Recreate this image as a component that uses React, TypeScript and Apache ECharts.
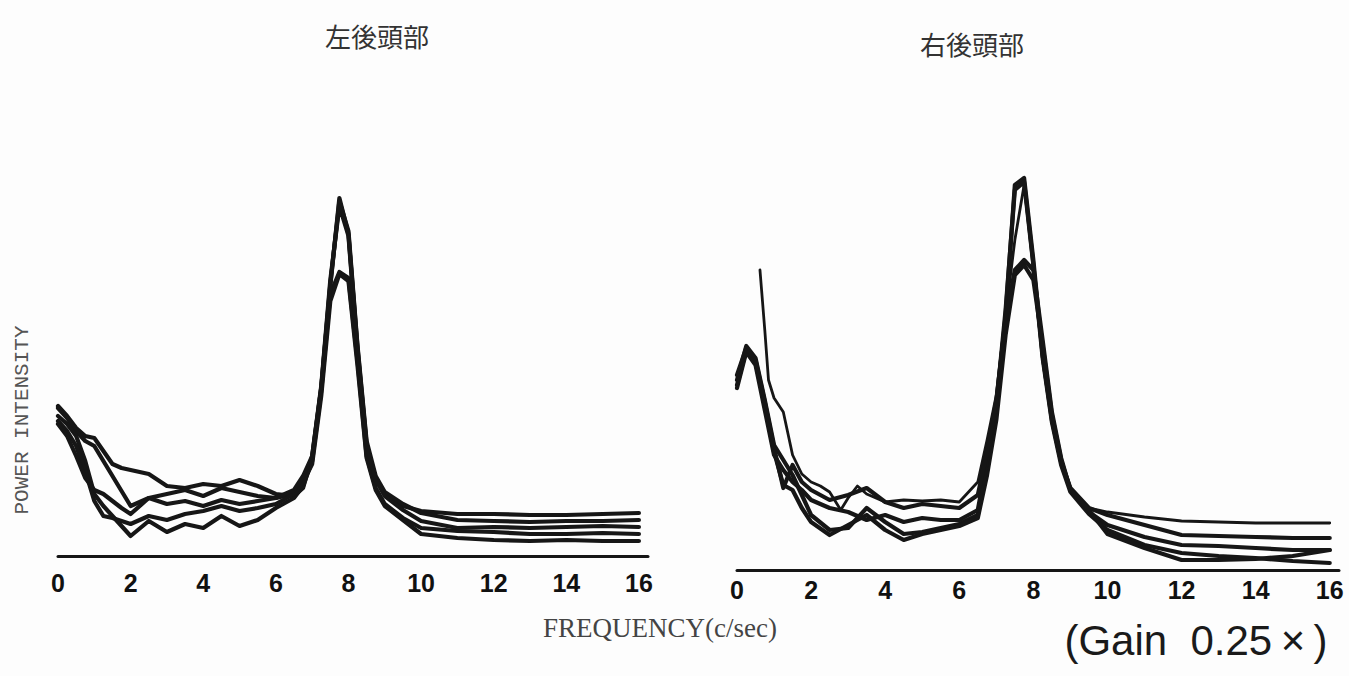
import React, { useEffect, useRef } from "react";
import * as echarts from "echarts";

// Frequencies (c/sec) shared by most traces
const freqL = [0, 0.25, 0.5, 0.75, 1, 1.25, 1.5, 1.75, 2, 2.5, 3, 3.5, 4, 4.5, 5, 5.5, 6, 6.5, 6.75, 7, 7.25, 7.5, 7.75, 8, 8.25, 8.5, 8.75, 9, 9.5, 10, 11, 12, 13, 14, 15, 16];
const freqR = freqL;
const freqR1 = [0.62, 0.75, 0.85, 1, 1.25, 1.5, 1.75, 2, 2.25, 2.5, 2.8, 3, 3.25, 3.5, 4, 4.5, 5, 5.5, 6, 6.5, 6.75, 7, 7.25, 7.5, 7.75, 8, 8.25, 8.5, 8.75, 9, 9.5, 10, 11, 12, 13, 14, 15, 16];

// 左後頭部 (left occipital) traces
const left1 = [150, 140, 128, 120, 118, 105, 92, 88, 86, 82, 70, 68, 72, 70, 76, 70, 62, 60, 68, 100, 170, 276, 350, 320, 205, 110, 78, 62, 50, 45, 42, 42, 41, 41, 42, 43];
const left2 = [148, 138, 125, 115, 110, 95, 80, 65, 50, 58, 62, 66, 60, 68, 64, 60, 58, 62, 72, 98, 168, 272, 355, 325, 210, 115, 80, 64, 52, 43, 36, 35, 34, 35, 35, 36];
const left3 = [140, 132, 120, 95, 62, 50, 40, 30, 20, 35, 24, 32, 28, 40, 30, 36, 48, 58, 70, 95, 165, 262, 284, 278, 195, 100, 68, 52, 38, 28, 25, 24, 22, 22, 23, 22];
const left4 = [135, 125, 110, 85, 55, 40, 38, 35, 32, 40, 36, 42, 45, 50, 45, 48, 52, 62, 74, 92, 160, 255, 282, 275, 190, 98, 66, 50, 36, 22, 18, 16, 15, 16, 15, 15];
const left5 = [132, 120, 100, 78, 66, 62, 55, 48, 42, 58, 52, 55, 50, 56, 52, 55, 58, 66, 80, 100, 168, 270, 358, 322, 208, 112, 76, 60, 46, 35, 28, 29, 28, 29, 30, 29];

// 右後頭部 (right occipital) traces
const right1 = [300, 240, 190, 172, 158, 115, 96, 88, 84, 78, 60, 72, 84, 76, 68, 70, 69, 70, 68, 88, 130, 175, 255, 330, 385, 300, 210, 148, 105, 80, 62, 58, 53, 49, 48, 47, 47, 47];
const right2 = [190, 224, 212, 170, 125, 110, 95, 75, 55, 40, 42, 62, 48, 36, 38, 42, 46, 55, 105, 160, 255, 385, 392, 310, 215, 150, 108, 82, 62, 55, 45, 35, 34, 33, 32, 32];
const right3 = [185, 220, 208, 165, 118, 85, 80, 62, 48, 35, 45, 55, 40, 30, 36, 40, 44, 52, 95, 150, 235, 295, 305, 290, 225, 155, 110, 80, 58, 45, 33, 25, 24, 22, 20, 20];
const right4 = [182, 218, 205, 160, 115, 100, 88, 80, 70, 62, 58, 50, 55, 48, 52, 50, 50, 60, 110, 165, 260, 380, 388, 305, 212, 148, 105, 78, 56, 40, 25, 17, 14, 12, 9, 7];
const right5 = [195, 222, 210, 168, 122, 82, 105, 88, 80, 70, 75, 82, 68, 62, 66, 64, 62, 75, 118, 170, 250, 300, 310, 300, 230, 158, 112, 80, 60, 36, 22, 10, 10, 11, 14, 20];

const tickLabels = ["0", "2", "4", "6", "8", "10", "12", "14", "16"];

const pair = (xs: number[], ys: number[]) => ys.map((v, i) => [xs[i], v]);

export default function App() {
  const ref = useRef<HTMLDivElement>(null);
  useEffect(() => {
    if (!ref.current) return;
    const chart = echarts.init(ref.current, null, { renderer: "svg" });
    const ink = "#161616";
    const mkX = (idx: number, margin: number) => ({
      type: "value",
      gridIndex: idx,
      min: 0,
      max: 16.25,
      interval: 2,
      axisLine: { show: true, onZero: false, lineStyle: { color: ink, width: 3 } },
      axisTick: { show: false },
      splitLine: { show: false },
      axisLabel: {
        showMaxLabel: false,
        margin,
        color: "#111",
        fontSize: 25,
        fontWeight: "bold",
        fontFamily: "Liberation Sans, Arial, sans-serif",
        formatter: (v: number) => (tickLabels.includes(String(v)) ? String(v) : ""),
      },
    });
    const mkY = (idx: number) => ({
      type: "value",
      gridIndex: idx,
      min: 0,
      max: 400,
      show: false,
    });
    const mkS = (xs: number[], ys: number[], idx: number, w = 4.2) => ({
      type: "line",
      xAxisIndex: idx,
      yAxisIndex: idx,
      data: pair(xs, ys),
      showSymbol: false,
      smooth: false,
      lineStyle: { color: ink, width: w, join: "round", cap: "round" },
      silent: true,
    });
    chart.setOption({
      animation: false,
      backgroundColor: "#fdfdfd",
      grid: [
        { left: 58, top: 156, width: 590, height: 400 },
        { left: 737, top: 170, width: 602, height: 400 },
      ],
      xAxis: [mkX(0, 14), mkX(1, 7)],
      yAxis: [mkY(0), mkY(1)],
      series: [
        mkS(freqL, left1, 0),
        mkS(freqL, left2, 0),
        mkS(freqL, left3, 0),
        mkS(freqL, left4, 0),
        mkS(freqL, left5, 0),
        mkS(freqR1, right1, 1, 2.8),
        mkS(freqR, right2, 1),
        mkS(freqR, right3, 1),
        mkS(freqR, right4, 1),
        mkS(freqR, right5, 1),
      ],
      graphic: [
        {
          type: "text",
          x: 377,
          y: 35,
          style: {
            text: "左後頭部",
            fill: "#333",
            font: "26px 'Noto Sans CJK JP', sans-serif",
            textAlign: "center",
            textVerticalAlign: "middle",
          },
        },
        {
          type: "text",
          x: 972,
          y: 43,
          style: {
            text: "右後頭部",
            fill: "#333",
            font: "26px 'Noto Sans CJK JP', sans-serif",
            textAlign: "center",
            textVerticalAlign: "middle",
          },
        },
        {
          type: "text",
          x: 22,
          y: 420,
          rotation: Math.PI / 2,
          style: {
            text: "POWER INTENSITY",
            fill: "#555",
            font: "21px 'Liberation Mono', monospace",
            textAlign: "center",
            textVerticalAlign: "middle",
          },
        },
        {
          type: "text",
          x: 660,
          y: 628,
          style: {
            text: "FREQUENCY(c/sec)",
            fill: "#444",
            font: "27px 'Liberation Serif', serif",
            textAlign: "center",
            textVerticalAlign: "middle",
          },
        },
        {
          type: "text",
          x: 1196,
          y: 640,
          style: {
            text: "(Gain  0.25\u2009\u00d7\u2009)",
            fill: "#1a1a1a",
            font: "42px 'Liberation Sans', Arial, sans-serif",
            textAlign: "center",
            textVerticalAlign: "middle",
          },
        },
      ],
    });
    return () => chart.dispose();
  }, []);
  return (
    <div
      ref={ref}
      style={{ position: "absolute", left: 0, top: 0, width: 1349, height: 676 }}
    />
  );
}
